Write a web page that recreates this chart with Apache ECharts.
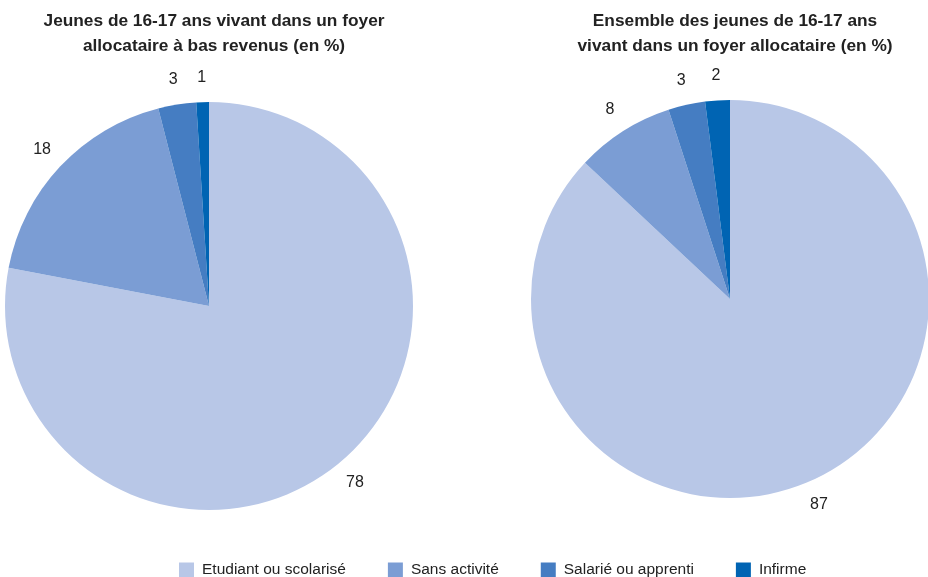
<!DOCTYPE html>
<html>
<head>
<meta charset="utf-8">
<script src="https://cdn.jsdelivr.net/npm/echarts@6/dist/echarts.min.js"></script>
<style>
html,body{margin:0;padding:0;background:#fff;}
#chart{width:928px;height:577px;}
</style>
</head>
<body>
<div id="chart"></div>
<script>
const categories = ['Etudiant ou scolarisé', 'Sans activité', 'Salarié ou apprenti', 'Infirme'];
const lowIncomeValues = [78, 18, 3, 1];
const allValues = [87, 8, 3, 2];
const titles = ['Jeunes de 16-17 ans vivant dans un foyer\nallocataire à bas revenus (en %)',
                'Ensemble des jeunes de 16-17 ans\nvivant dans un foyer allocataire (en %)'];
const colors = ['#B8C7E7', '#7B9DD4', '#457DC2', '#0064B3'];
const FONT = '"Liberation Sans", Arial, sans-serif';

const chart = echarts.init(document.getElementById('chart'));

function pieSeries(values, center, radius) {
  return {
    type: 'pie',
    center: center,
    radius: radius,
    startAngle: 90,
    clockwise: true,
    silent: true,
    label: { show: false },
    labelLine: { show: false },
    itemStyle: { borderWidth: 0 },
    data: categories.map((c, i) => ({ name: c, value: values[i] }))
  };
}
// transparent ring carrying the value labels, centred just outside each pie
function labelRing(values, center, radius) {
  return {
    type: 'pie',
    center: center,
    radius: [radius + 4, radius + 40],
    startAngle: 90,
    clockwise: true,
    silent: true,
    legendHoverLink: false,
    label: {
      show: true,
      position: 'inside',
      formatter: '{c}',
      color: '#222',
      fontFamily: FONT,
      fontSize: 16
    },
    labelLine: { show: false },
    itemStyle: { color: 'rgba(0,0,0,0)', borderWidth: 0 },
    data: categories.map((c, i) => ({ name: c, value: values[i] }))
  };
}

chart.setOption({
  animation: false,
  color: colors,
  title: [
    { text: titles[0], left: 209, top: 4, textAlign: 'center',
      textStyle: { fontFamily: FONT, fontSize: 17.3, fontWeight: 'bold', color: '#222', lineHeight: 25 } },
    { text: titles[1], left: 730, top: 4, textAlign: 'center',
      textStyle: { fontFamily: FONT, fontSize: 17.3, fontWeight: 'bold', color: '#222', lineHeight: 25 } }
  ],
  legend: {
    data: categories,
    left: 174,
    top: 557,
    icon: 'rect',
    itemWidth: 15,
    itemHeight: 15,
    itemGap: 42,
    selectedMode: false,
    textStyle: { fontFamily: FONT, fontSize: 15.5, color: '#222', padding: [0, 0, 0, 3] }
  },
  series: [
    pieSeries(lowIncomeValues, [209, 306], 204),
    pieSeries(allValues, [730, 299], 199),
    labelRing(lowIncomeValues, [209, 306], 204),
    labelRing(allValues, [730, 299], 199)
  ]
});
</script>
</body>
</html>
